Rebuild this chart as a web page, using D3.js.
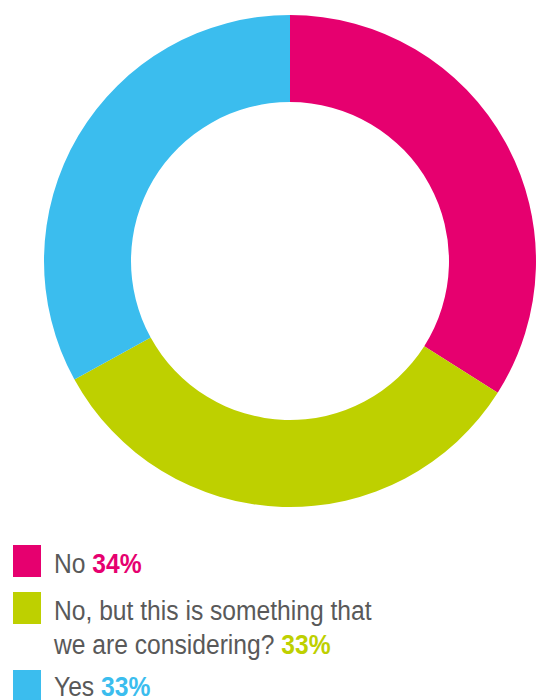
<!DOCTYPE html>
<html>
<head>
<meta charset="utf-8">
<script src="https://cdn.jsdelivr.net/npm/d3@7"></script>
<style>
  html, body { margin: 0; padding: 0; background: #ffffff; }
  svg { display: block; }
  .legend-text { font-family: "Liberation Sans Narrow", "Liberation Sans", Arial, sans-serif; font-size: 28px; fill: #595959; }
  .legend-pct { font-weight: bold; }
</style>
</head>
<body>
<svg id="chart" width="537" height="700"></svg>
<script>
// Survey answers, shares in percent
const categories = ["No", "No, but this is something that we are considering?", "Yes"];
const values = [34, 33, 33];
const colors = ["#E6006F", "#BED000", "#3BBDEE"];
// Legend lines: label text broken into lines, percentage appended to the last line
const legendLines = [
  ["No"],
  ["No, but this is something that", "we are considering?"],
  ["Yes"]
];

const svg = d3.select("#chart");
const cx = 290, cy = 261, outerR = 246, innerR = 159;

const pie = d3.pie().sort(null).value(d => d)(values);
const arc = d3.arc().innerRadius(innerR).outerRadius(outerR);

svg.append("g")
  .attr("transform", `translate(${cx},${cy})`)
  .selectAll("path")
  .data(pie)
  .join("path")
  .attr("d", arc)
  .attr("fill", (d, i) => colors[i]);

// Legend (text squeezed horizontally for a condensed look)
const legendX = 13, textX = 54, squeeze = 0.88;
const legendRows = [
  { boxY: 545, baselines: [572.5] },
  { boxY: 592, baselines: [619.5, 654] },
  { boxY: 670, baselines: [696] }
];

const lg = svg.append("g");
legendRows.forEach((row, i) => {
  lg.append("rect")
    .attr("x", legendX).attr("y", row.boxY)
    .attr("width", 28).attr("height", 32)
    .attr("fill", colors[i]);
  legendLines[i].forEach((line, j) => {
    const t = lg.append("text")
      .attr("class", "legend-text")
      .attr("transform", `translate(${textX},${row.baselines[j]}) scale(${squeeze},1)`);
    t.append("tspan").text(line);
    if (j === legendLines[i].length - 1) {
      t.append("tspan")
        .attr("class", "legend-pct")
        .attr("fill", colors[i])
        .text(" " + values[i] + "%");
    }
  });
});
</script>
</body>
</html>
